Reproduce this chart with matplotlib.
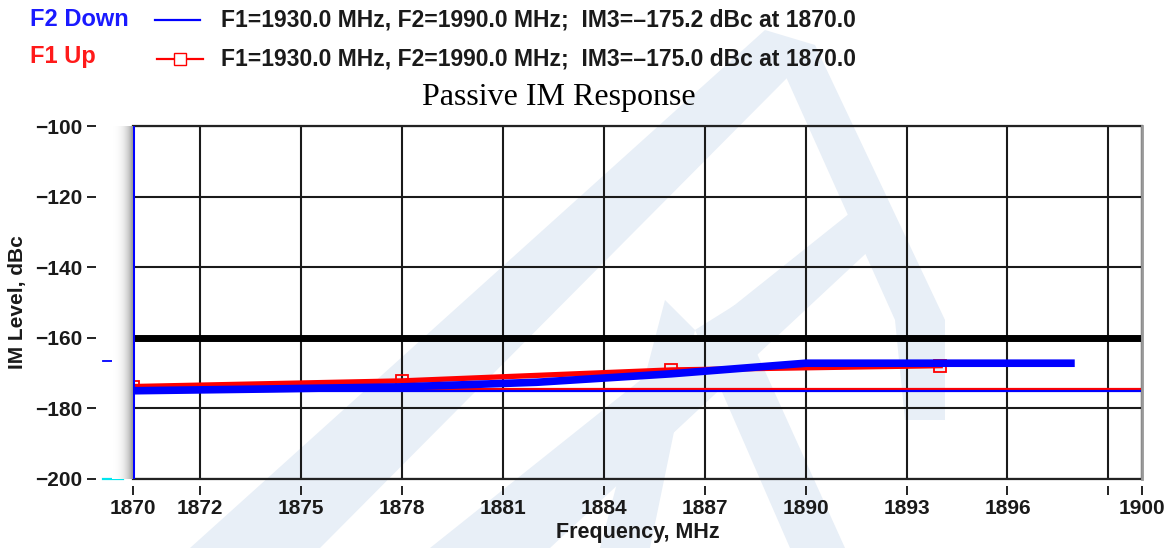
import numpy as np
import matplotlib.pyplot as plt
from matplotlib.lines import Line2D
from matplotlib.patches import Polygon, Rectangle
import matplotlib.transforms as mtransforms

# data
freq_blue = [1870, 1874, 1878, 1882, 1886, 1890, 1894, 1898]
im_blue = [-175.0, -174.5, -173.9, -172.6, -170.2, -167.2, -167.2, -167.2]

freq_red = [1870, 1878, 1886, 1894]
im_red = [-173.8, -172.2, -169.1, -167.9]

limit_level = -160
im3_red = -174.4
im3_blue = -175.1
marker_blue = -166.5
marker_cyan = -200

xticks = [1870, 1872, 1875, 1878, 1881, 1884, 1887, 1890, 1893, 1896, 1899, 1900]
xlabels = ["1870", "1872", "1875", "1878", "1881", "1884", "1887", "1890", "1893", "1896", "", "1900"]
yticks = [-100, -120, -140, -160, -180, -200]

plt.rcParams['font.family'] = ['Liberation Sans', 'DejaVu Sans']

fig = plt.figure(figsize=(11.76, 5.48), dpi=100)

# faint watermark in the background
wm = "#e8eff7"
W, H = 1176.0, 548.0
def px(pts):
    return [(x / W, 1 - y / H) for x, y in pts]
shapes = [
    [(190, 548), (320, 548), (790, 75), (765, 30)],
    [(765, 30), (815, 45), (945, 320), (945, 420), (905, 420), (895, 320)],
    [(430, 548), (550, 548), (875, 245), (860, 205)],
    [(600, 548), (650, 548), (695, 330), (665, 300)],
    [(695, 330), (735, 305), (845, 548), (790, 548)],
]
for s in shapes:
    fig.patches.append(Polygon(px(s), closed=True, transform=fig.transFigure,
                               facecolor=wm, edgecolor="none", zorder=-5))

ax = fig.add_axes([133 / W, 1 - 479 / H, 1009 / W, 353 / H])
ax.patch.set_alpha(0)

# gray shading left of the plot
sh = fig.add_axes([112 / W, 1 - 479 / H, 21 / W, 353 / H])
sh.imshow(np.linspace(0, 1, 50)[None, :] ** 2, cmap="Greys", vmin=0, vmax=2.0,
          aspect="auto", extent=[0, 1, 0, 1], interpolation="bilinear")
sh.axis("off")

ax.set_xlim(1870, 1900)
ax.set_ylim(-200, -100)

ax.grid(True, color="#1a1a1a", lw=1.5)
ax.set_axisbelow(True)

ax.axhline(limit_level, color="black", lw=5, zorder=3)
ax.axhline(im3_red, color="#ff0000", lw=1.6, zorder=3)
ax.axhline(im3_blue, color="#0000ff", lw=1.6, zorder=3)

ax.plot(freq_red, im_red, color="#ff0000", lw=3.8, marker="s", ms=8.5,
        mfc="none", mec="#ff0000", mew=1.3, zorder=4)
ax.plot(freq_blue, im_blue, color="#0000ff", lw=5.5, zorder=5,
        solid_capstyle="butt")
ax.axvline(freq_blue[0], color="#0000ff", lw=2.2, zorder=8)

# small level marks left of the axis
trans = mtransforms.blended_transform_factory(ax.transAxes, ax.transData)
ax.plot([-0.03, -0.01], [marker_blue, marker_blue], color="#0000ff", lw=1.3,
        transform=trans, clip_on=False)
ax.plot([-0.03, -0.01], [marker_cyan, marker_cyan], color="#00e5ee", lw=1.6,
        transform=trans, clip_on=False)

# frame
for sp in ax.spines.values():
    sp.set_visible(False)
ax.spines["left"].set_position(("outward", 27))
ax.spines["bottom"].set_position(("outward", 5))
ax.add_patch(Rectangle((0, 0), 1, 1, transform=ax.transAxes, fill=False,
                       edgecolor="#222222", lw=1.6, zorder=7, clip_on=False))
ax.plot([1, 1], [0, 1], color="#9a9a9a", lw=2, transform=ax.transAxes,
        clip_on=False, zorder=8)

ax.set_xticks(xticks)
ax.set_xticklabels(xlabels)
ax.set_yticks(yticks)
ax.tick_params(axis="both", direction="out", length=6.5, width=1.4,
               color="#222222", labelsize=15, pad=3)
for t in ax.get_xticklabels() + ax.get_yticklabels():
    t.set_fontweight("bold")
    t.set_color("#1a1a1a")

ax.set_xlabel("Frequency, MHz", fontsize=15.5, fontweight="bold",
              color="#1a1a1a", labelpad=3)
ax.set_ylabel("IM Level, dBc", fontsize=15, fontweight="bold",
              color="#1a1a1a")
ax.yaxis.set_label_coords(-0.105, 0.5)

# title
fig.text(559 / W, 1 - 98 / H, "Passive IM Response", ha="center", va="center",
         fontsize=23, family=["Liberation Serif", "DejaVu Serif"])

# legend drawn by hand at the top
fig.text(30 / W, 1 - 20 / H, "F2 Down", color="#1a1aff", fontsize=17,
         fontweight="bold", va="center")
fig.text(30 / W, 1 - 57 / H, "F1 Up", color="#ff1a1a", fontsize=17,
         fontweight="bold", va="center")
fig.lines.append(Line2D([155 / W, 200 / W], [1 - 20 / H, 1 - 20 / H],
                        color="#0000ff", lw=1.6, transform=fig.transFigure))
fig.lines.append(Line2D([157 / W, 180 / W, 203 / W], [1 - 59 / H] * 3,
                        color="#ff0000", lw=1.6, marker="s", ms=8,
                        markevery=[1], mfc="white", mec="#ff0000",
                        transform=fig.transFigure))
fig.text(221 / W, 1 - 20 / H,
         "F1=1930.0 MHz, F2=1990.0 MHz;  IM3=\u2013175.2 dBc at 1870.0",
         fontsize=16.5, fontweight="bold", color="#1a1a1a", va="center")
fig.text(221 / W, 1 - 59 / H,
         "F1=1930.0 MHz, F2=1990.0 MHz;  IM3=\u2013175.0 dBc at 1870.0",
         fontsize=16.5, fontweight="bold", color="#1a1a1a", va="center")

fig.savefig("out.png", dpi=100)
